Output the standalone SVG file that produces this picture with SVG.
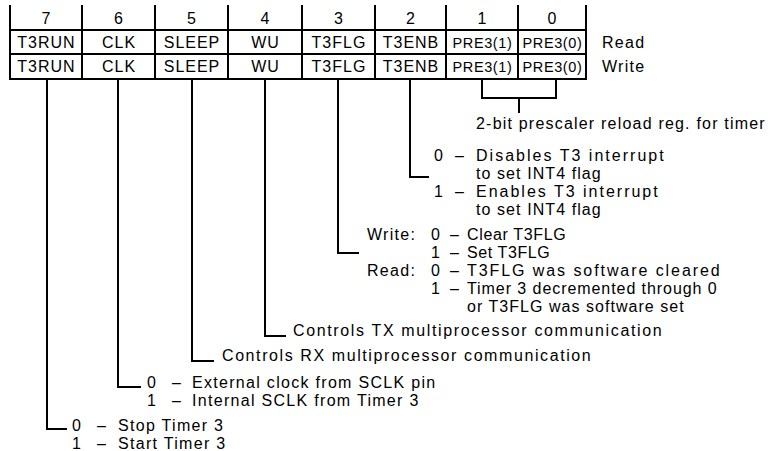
<svg xmlns="http://www.w3.org/2000/svg" width="781" height="451" viewBox="0 0 781 451">
<style>
.t{font-family:"Liberation Sans",Arial,sans-serif;font-size:16px;fill:#000;letter-spacing:1.3px}
.h{font-family:"Liberation Sans",Arial,sans-serif;font-size:16px;fill:#000;text-anchor:middle}
.c{font-family:"Liberation Sans",Arial,sans-serif;font-size:16px;fill:#000;text-anchor:middle;letter-spacing:1px}
.p{font-family:"Liberation Sans",Arial,sans-serif;font-size:14.5px;fill:#000;text-anchor:middle;letter-spacing:0.6px}
.ln{stroke:#000;stroke-width:2;fill:none;stroke-linecap:square}
</style>
<rect width="781" height="451" fill="#fff"/>
<g id="register">
  <g class="ln">
    <line x1="10" y1="6" x2="10" y2="79"/>
    <line x1="82" y1="6" x2="82" y2="79"/>
    <line x1="155" y1="6" x2="155" y2="79"/>
    <line x1="228" y1="6" x2="228" y2="79"/>
    <line x1="302" y1="6" x2="302" y2="79"/>
    <line x1="375" y1="6" x2="375" y2="79"/>
    <line x1="446" y1="6" x2="446" y2="79"/>
    <line x1="518" y1="6" x2="518" y2="79"/>
    <line x1="586" y1="6" x2="586" y2="79"/>
    <line x1="10" y1="30" x2="586" y2="30"/>
    <line x1="10" y1="54" x2="586" y2="54"/>
    <line x1="10" y1="79" x2="586" y2="79"/>
  </g>
  <g id="header">
    <text class="h" x="46" y="24">7</text>
    <text class="h" x="118.5" y="24">6</text>
    <text class="h" x="191.5" y="24">5</text>
    <text class="h" x="265" y="24">4</text>
    <text class="h" x="338.5" y="24">3</text>
    <text class="h" x="410.5" y="24">2</text>
    <text class="h" x="482" y="24">1</text>
    <text class="h" x="552" y="24">0</text>
  </g>
  <g id="row-read">
    <text class="c" x="46.5" y="48">T3RUN</text>
    <text class="c" x="119" y="48">CLK</text>
    <text class="c" x="192" y="48">SLEEP</text>
    <text class="c" x="265.5" y="48">WU</text>
    <text class="c" x="339" y="48">T3FLG</text>
    <text class="c" x="411" y="48">T3ENB</text>
    <text class="p" x="482.5" y="47.5">PRE3(1)</text>
    <text class="p" x="552.5" y="47.5">PRE3(0)</text>
    <text class="t" x="602" y="48">Read</text>
  </g>
  <g id="row-write">
    <text class="c" x="46.5" y="72">T3RUN</text>
    <text class="c" x="119" y="72">CLK</text>
    <text class="c" x="192" y="72">SLEEP</text>
    <text class="c" x="265.5" y="72">WU</text>
    <text class="c" x="339" y="72">T3FLG</text>
    <text class="c" x="411" y="72">T3ENB</text>
    <text class="p" x="482.5" y="71.5">PRE3(1)</text>
    <text class="p" x="552.5" y="71.5">PRE3(0)</text>
    <text class="t" x="602" y="72">Write</text>
  </g>
</g>
<g id="connectors" class="ln">
  <polyline points="482,80 482,98 556,98 556,80"/>
  <line x1="519" y1="98" x2="519" y2="112"/>
  <polyline points="410,80 410,177 428,177"/>
  <polyline points="338,80 338,253 358,253"/>
  <polyline points="265,80 265,336 285,336"/>
  <polyline points="192,80 192,361 213,361"/>
  <polyline points="118,80 118,387 140,387"/>
  <polyline points="47,80 47,429 66,429"/>
</g>
<g id="desc-prescaler">
  <text class="t" x="476" y="129" textLength="290">2-bit prescaler reload reg. for timer</text>
</g>
<g id="desc-t3enb">
  <text class="t" y="161"><tspan x="434">0</tspan><tspan x="455">–</tspan><tspan x="476" textLength="189">Disables T3 interrupt</tspan></text>
  <text class="t" x="476" y="179" textLength="126">to set INT4 flag</text>
  <text class="t" y="197"><tspan x="434">1</tspan><tspan x="455">–</tspan><tspan x="476" textLength="183">Enables T3 interrupt</tspan></text>
  <text class="t" x="476" y="215" textLength="126">to set INT4 flag</text>
</g>
<g id="desc-t3flg">
  <text class="t" y="240"><tspan x="367">Write:</tspan><tspan x="431">0</tspan><tspan x="450">–</tspan><tspan x="467" textLength="100">Clear T3FLG</tspan></text>
  <text class="t" y="258"><tspan x="431">1</tspan><tspan x="450">–</tspan><tspan x="467" textLength="84">Set T3FLG</tspan></text>
  <text class="t" y="276"><tspan x="367">Read:</tspan><tspan x="431">0</tspan><tspan x="450">–</tspan><tspan x="467" textLength="254">T3FLG was software cleared</tspan></text>
  <text class="t" y="294"><tspan x="431">1</tspan><tspan x="450">–</tspan><tspan x="467" textLength="251">Timer 3 decremented through 0</tspan></text>
  <text class="t" x="467" y="312" textLength="218">or T3FLG was software set</text>
</g>
<g id="desc-wu">
  <text class="t" x="293" y="336" textLength="370">Controls TX multiprocessor communication</text>
</g>
<g id="desc-sleep">
  <text class="t" x="222" y="361" textLength="370">Controls RX multiprocessor communication</text>
</g>
<g id="desc-clk">
  <text class="t" y="388"><tspan x="147">0</tspan><tspan x="172">–</tspan><tspan x="192">External clock from SCLK pin</tspan></text>
  <text class="t" y="406"><tspan x="147">1</tspan><tspan x="172">–</tspan><tspan x="192">Internal SCLK from Timer 3</tspan></text>
</g>
<g id="desc-t3run">
  <text class="t" y="431"><tspan x="72">0</tspan><tspan x="97">–</tspan><tspan x="118">Stop Timer 3</tspan></text>
  <text class="t" y="449"><tspan x="72">1</tspan><tspan x="97">–</tspan><tspan x="118">Start Timer 3</tspan></text>
</g>
</svg>
